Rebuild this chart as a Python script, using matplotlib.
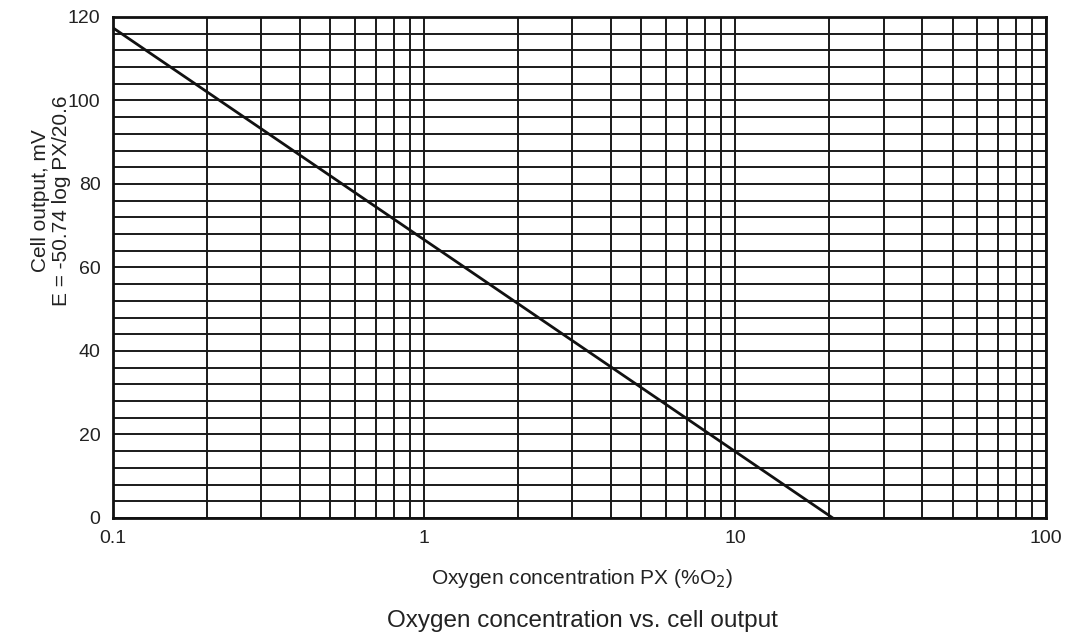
import numpy as np
import matplotlib.pyplot as plt

plt.rcParams['font.family'] = ['Liberation Sans', 'DejaVu Sans']

# line: E = -50.74 log PX/20.6
px = [0.1, 20.6]
cell_mv = [117.4, 0.0]

x_ticks = [0.1, 1, 10, 100]
x_tick_labels = ['0.1', '1', '10', '100']
y_ticks = [0, 20, 40, 60, 80, 100, 120]

# grid: every 1-9 of each decade, every 4 mV
x_grid = [m * d for d in [0.1, 1, 10] for m in range(1, 10)] + [100]
y_grid = list(range(0, 121, 4))

fig = plt.figure(figsize=(10.73, 6.39), dpi=100)
ax = fig.add_axes([0.1053, 0.1894, 0.8697, 0.784])

ax.set_xscale('log')
ax.set_xlim(0.1, 100)
ax.set_ylim(0, 120)

for xv in x_grid:
    ax.axvline(xv, color='#1a1a1a', lw=1.4, zorder=1)
for yv in y_grid:
    ax.axhline(yv, color='#1a1a1a', lw=1.4, zorder=1)

ax.plot(px, cell_mv, color='#111111', lw=2, zorder=3)

ax.set_xticks(x_ticks)
ax.set_xticklabels(x_tick_labels)
ax.xaxis.set_minor_locator(plt.NullLocator())
ax.set_yticks(y_ticks)
ax.tick_params(length=0, labelsize=14, colors='#222222')
ax.tick_params(axis='x', pad=9)
ax.tick_params(axis='y', pad=9)

for s in ax.spines.values():
    s.set_linewidth(2)
    s.set_color('#111111')

cx = 582 / 1073
fig.text(cx, 1 - 578 / 639, 'Oxygen concentration PX (%O$_2$)', ha='center', va='center',
         fontsize=15, color='#222222')

fig.text(51 / 1073, 1 - 201 / 639, 'Cell output, mV\nE = -50.74 log PX/20.6',
         rotation=90, ha='center', va='center', multialignment='center',
         fontsize=15, color='#222222', linespacing=1.1)

fig.text(cx, 1 - 621 / 639, 'Oxygen concentration vs. cell output', ha='center', va='center',
         fontsize=17.5, color='#222222')

fig.savefig('out.png', dpi=100)
